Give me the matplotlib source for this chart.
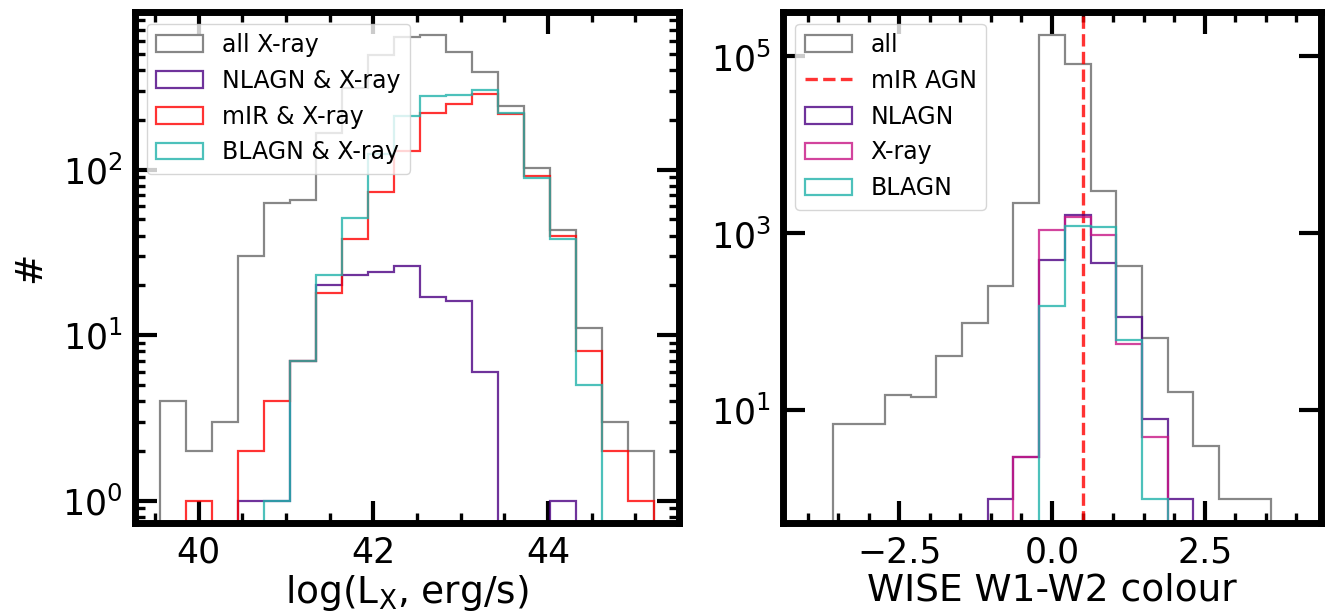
import numpy as np
import matplotlib
matplotlib.use("Agg")
import matplotlib.pyplot as plt
from matplotlib.ticker import MultipleLocator, NullLocator

# ---------------- data ----------------
# Left panel: log(L_X) histogram, 19 bins
lx_edges = np.linspace(39.556, 45.21, 20)
lx_all = [4, 2, 3, 30, 63, 66, 167, 311, 494, 632, 653, 511, 387, 244, 103, 43, 11, 3, 2]
lx_nlagn = [0, 0, 0, 1, 1, 7, 20, 23, 24, 26, 17, 16, 6, 0, 0, 1, 0, 0, 0]
lx_mir = [0, 1, 0, 2, 4, 7, 18, 38, 73, 130, 220, 249, 288, 217, 92, 40, 8, 2, 1]
lx_blagn = [0, 0, 0, 0, 1, 7, 23, 51, 125, 210, 277, 284, 301, 220, 89, 38, 5, 0, 0]

# Right panel: WISE W1-W2 colour histogram, 19 bins over (-4, 4)
w_edges = np.linspace(-4, 4, 20)
w_all = [0, 7, 7, 15, 14, 41, 96, 255, 2223, 176000, 82600, 2985, 427, 66, 16, 4, 1, 1, 0]
w_nlagn = [0, 0, 0, 0, 0, 0, 0, 1, 3, 505, 1600, 462, 115, 8, 1, 0, 0, 0, 0]
w_xray = [0, 0, 0, 0, 0, 0, 0, 0, 3, 1081, 1550, 948, 57, 5, 0, 0, 0, 0, 0]
w_blagn = [0, 0, 0, 0, 0, 0, 0, 0, 0, 150, 1200, 1190, 62, 1, 0, 0, 0, 0, 0]
mir_cut = 0.5

# ---------------- style ----------------
C_GRAY = 'dimgray'
C_PURP = 'indigo'
C_RED = 'red'
C_TEAL = 'lightseagreen'
C_PINK = 'mediumvioletred'
ALPHA = 0.8
LW = 1.6

fig = plt.figure(figsize=(13.31, 6.16), dpi=100)
ax1 = fig.add_axes([0.1014, 0.1505, 0.4087, 0.8305])
ax2 = fig.add_axes([0.5885, 0.1505, 0.4038, 0.8305])


def centers(e):
    e = np.asarray(e)
    return 0.5 * (e[1:] + e[:-1])


def step(ax, edges, counts, color, label):
    _, _, p = ax.hist(centers(edges), bins=edges, weights=counts, histtype='step',
                      color=color, alpha=ALPHA, lw=LW, label=label, log=True)
    return p[0]


h1 = [
    step(ax1, lx_edges, lx_all, C_GRAY, 'all X-ray'),
    step(ax1, lx_edges, lx_nlagn, C_PURP, 'NLAGN & X-ray'),
    step(ax1, lx_edges, lx_mir, C_RED, 'mIR & X-ray'),
    step(ax1, lx_edges, lx_blagn, C_TEAL, 'BLAGN & X-ray'),
]

g = step(ax2, w_edges, w_all, C_GRAY, 'all')
vl = ax2.axvline(mir_cut, color=C_RED, alpha=ALPHA, ls='--', lw=2.4, label='mIR AGN')
pn = step(ax2, w_edges, w_nlagn, C_PURP, 'NLAGN')
px = step(ax2, w_edges, w_xray, C_PINK, 'X-ray')
pb = step(ax2, w_edges, w_blagn, C_TEAL, 'BLAGN')

ax1.set_xlim(39.27, 45.50)
ax1.set_ylim(0.73, 900)
ax2.set_xlim(-4.4, 4.4)
ax2.set_ylim(0.53, 3.2e5)

ax1.xaxis.set_major_locator(MultipleLocator(2))
ax1.xaxis.set_minor_locator(MultipleLocator(0.5))
ax2.xaxis.set_major_locator(MultipleLocator(2.5))
ax2.xaxis.set_minor_locator(MultipleLocator(0.5))
ax2.set_yticks([1e1, 1e3, 1e5])
ax2.yaxis.set_minor_locator(NullLocator())

FS = 25
LFS = 27
for ax in (ax1, ax2):
    for s in ax.spines.values():
        s.set_linewidth(5)
    ax.tick_params(which='both', direction='in', top=True, right=True,
                   labelsize=FS, pad=9)
    ax.tick_params(which='major', length=16, width=3)
    ax.tick_params(which='minor', length=7.5, width=2.4)

ax1.set_xlabel(r'log(L$_{\rm X}$, erg/s)', fontsize=LFS, labelpad=2)
ax1.set_ylabel('#', fontsize=LFS, labelpad=10)
ax2.set_xlabel('WISE W1-W2 colour', fontsize=LFS, labelpad=2)

ax1.legend(handles=h1, loc='upper left', fontsize=17)
ax2.legend(handles=[g, vl, pn, px, pb], loc='upper left', fontsize=17)

fig.savefig('out.png', dpi=100)
